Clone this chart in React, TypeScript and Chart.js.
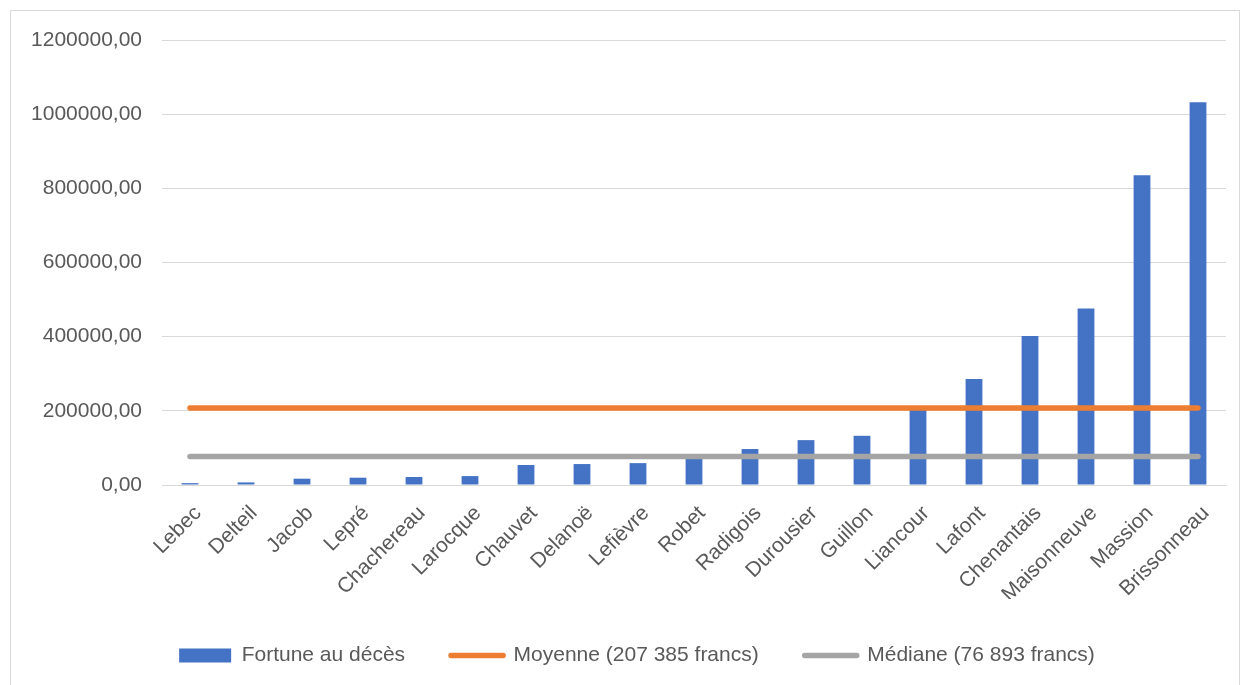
import React, { useEffect, useRef } from "react";
import { Chart, registerables } from "chart.js";

Chart.register(...registerables);

const categories = [
  "Lebec", "Delteil", "Jacob", "Lepré", "Chachereau", "Larocque", "Chauvet",
  "Delanoë", "Lefièvre", "Robet", "Radigois", "Durousier", "Guillon",
  "Liancour", "Lafont", "Chenantais", "Maisonneuve", "Massion", "Brissonneau",
];

const fortune = [
  5000, 7000, 17000, 19700, 21500, 24000, 54000, 56500, 59000, 76893,
  97000, 121000, 132700, 208000, 285800, 402000, 476000, 835000, 1032000,
];

const meanValue = 207385;
const medianValue = 76893;

const seriesLabels = [
  "Fortune au décès",
  "Moyenne (207 385 francs)",
  "Médiane (76 893 francs)",
];

const yTicks = [0, 200000, 400000, 600000, 800000, 1000000, 1200000];

const FONT = "'Liberation Sans', Arial, sans-serif";
const TEXT = "#595959";
const GRID = "#d9d9d9";
const BLUE = "#4472C4";
const ORANGE = "#ED7D31";
const GRAY = "#A5A5A5";

const legendShift = {
  id: "legendShift",
  afterLayout(chart: any) {
    if (chart.legend) {
      chart.legend.left += 19;
      chart.legend.right += 19;
    }
  },
};

export default function App() {
  const ref = useRef<HTMLCanvasElement | null>(null);

  useEffect(() => {
    if (!ref.current) return;
    const first = categories[0];
    const last = categories[categories.length - 1];
    const colors = [BLUE, ORANGE, GRAY];
    const chart = new Chart(ref.current, {
      type: "bar",
      data: {
        labels: categories,
        datasets: [
          {
            type: "bar",
            label: seriesLabels[0],
            data: fortune,
            backgroundColor: BLUE,
            barPercentage: 0.3,
            categoryPercentage: 1,
            order: 2,
          },
          {
            type: "line",
            label: seriesLabels[1],
            data: [
              { x: first, y: meanValue },
              { x: last, y: meanValue },
            ] as any,
            borderColor: ORANGE,
            backgroundColor: ORANGE,
            borderWidth: 5.5,
            borderCapStyle: "round",
            pointRadius: 0,
            order: 1,
          },
          {
            type: "line",
            label: seriesLabels[2],
            data: [
              { x: first, y: medianValue },
              { x: last, y: medianValue },
            ] as any,
            borderColor: GRAY,
            backgroundColor: GRAY,
            borderWidth: 5.5,
            borderCapStyle: "round",
            pointRadius: 0,
            order: 0,
          },
        ],
      },
      plugins: [legendShift],
      options: {
        animation: false,
        responsive: false,
        maintainAspectRatio: false,
        layout: { padding: { left: 10, right: 16, top: 40, bottom: 9 } },
        plugins: {
          tooltip: { enabled: false },
          legend: {
            position: "bottom",
            labels: {
              font: { family: FONT, size: 21 },
              color: TEXT,
              usePointStyle: true,
              pointStyleWidth: 52,
              boxHeight: 14,
              padding: 46,
              generateLabels: (c: any) =>
                c.data.datasets.map((ds: any, i: number) => ({
                  text: ds.label,
                  fillStyle: colors[i],
                  strokeStyle: colors[i],
                  lineWidth: i === 0 ? 0 : 5.5,
                  lineCap: "round",
                  pointStyle: i === 0 ? "rect" : "line",
                  hidden: false,
                  datasetIndex: i,
                  fontColor: TEXT,
                })),
            },
          },
        },
        scales: {
          x: {
            type: "category",
            offset: true,
            grid: { display: false, drawTicks: false },
            border: { display: true, color: GRID, width: 1 },
            ticks: {
              autoSkip: false,
              maxRotation: 45,
              minRotation: 45,
              padding: 16,
              labelOffset: 8,
              color: TEXT,
              font: { family: FONT, size: 21 },
            },
            afterFit: (s: any) => {
              s.height = 114;
            },
          },
          y: {
            min: 0,
            max: 1200000,
            afterBuildTicks: (s: any) => {
              s.ticks = yTicks.map((v) => ({ value: v }));
            },
            grid: { color: GRID, drawTicks: false, lineWidth: 1 },
            border: { display: false },
            ticks: {
              padding: 20,
              color: TEXT,
              font: { family: FONT, size: 21 },
              callback: (v: any) => Number(v).toFixed(2).replace(".", ","),
            },
            afterFit: (s: any) => {
              s.width = 152;
            },
          },
        },
      },
    });
    return () => chart.destroy();
  }, []);

  return (
    <div
      style={{
        position: "absolute",
        left: 0,
        top: 0,
        width: 1242,
        height: 685,
        overflow: "hidden",
        background: "#ffffff",
      }}
    >
      <div
        style={{
          position: "absolute",
          left: 10,
          top: 10,
          width: 1230,
          height: 690,
          border: "1px solid #d9d9d9",
          boxSizing: "border-box",
        }}
      />
      <canvas
        ref={ref}
        width={1242}
        height={685}
        style={{ position: "absolute", left: 0, top: 0, width: 1242, height: 685 }}
      />
    </div>
  );
}
